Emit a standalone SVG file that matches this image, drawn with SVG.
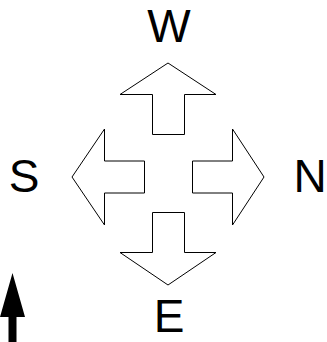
<svg xmlns="http://www.w3.org/2000/svg" width="327" height="342" viewBox="0 0 327 342">
<style>
.arr{fill:#fff;stroke:#000;stroke-width:1;stroke-linejoin:miter}
.lbl{font-family:"Liberation Sans",Arial,sans-serif;font-size:46px;fill:#000;text-anchor:middle}
</style>
<rect width="327" height="342" fill="#fff"/>
<g id="connectors">
<path d="M12.5,273 L25,317 L16.5,317 L16.5,342 L8.5,342 L8.5,317 L0,317 Z" fill="#000"/>
</g>
<g id="up"><path class="arr" d="M168,63 L216,94.5 L184.5,94.5 L184.5,134.5 L152.5,134.5 L152.5,94.5 L120,94.5 Z"/></g>
<g id="left"><path class="arr" d="M72,177 L104.5,129 L104.5,161 L144.5,161 L144.5,193 L104.5,193 L104.5,225 Z"/></g>
<g id="right"><path class="arr" d="M264,177 L232.5,129 L232.5,161 L192.5,161 L192.5,193 L232.5,193 L232.5,225 Z"/></g>
<g id="down"><path class="arr" d="M168,285 L216,252.5 L184.5,252.5 L184.5,212.5 L152.5,212.5 L152.5,252.5 L120,252.5 Z"/></g>
<g id="W"><text class="lbl" x="169" y="42">W</text></g>
<g id="S"><text class="lbl" x="24" y="192">S</text></g>
<g id="N"><text class="lbl" x="310" y="192">N</text></g>
<g id="E"><text class="lbl" x="169" y="332">E</text></g>
</svg>
